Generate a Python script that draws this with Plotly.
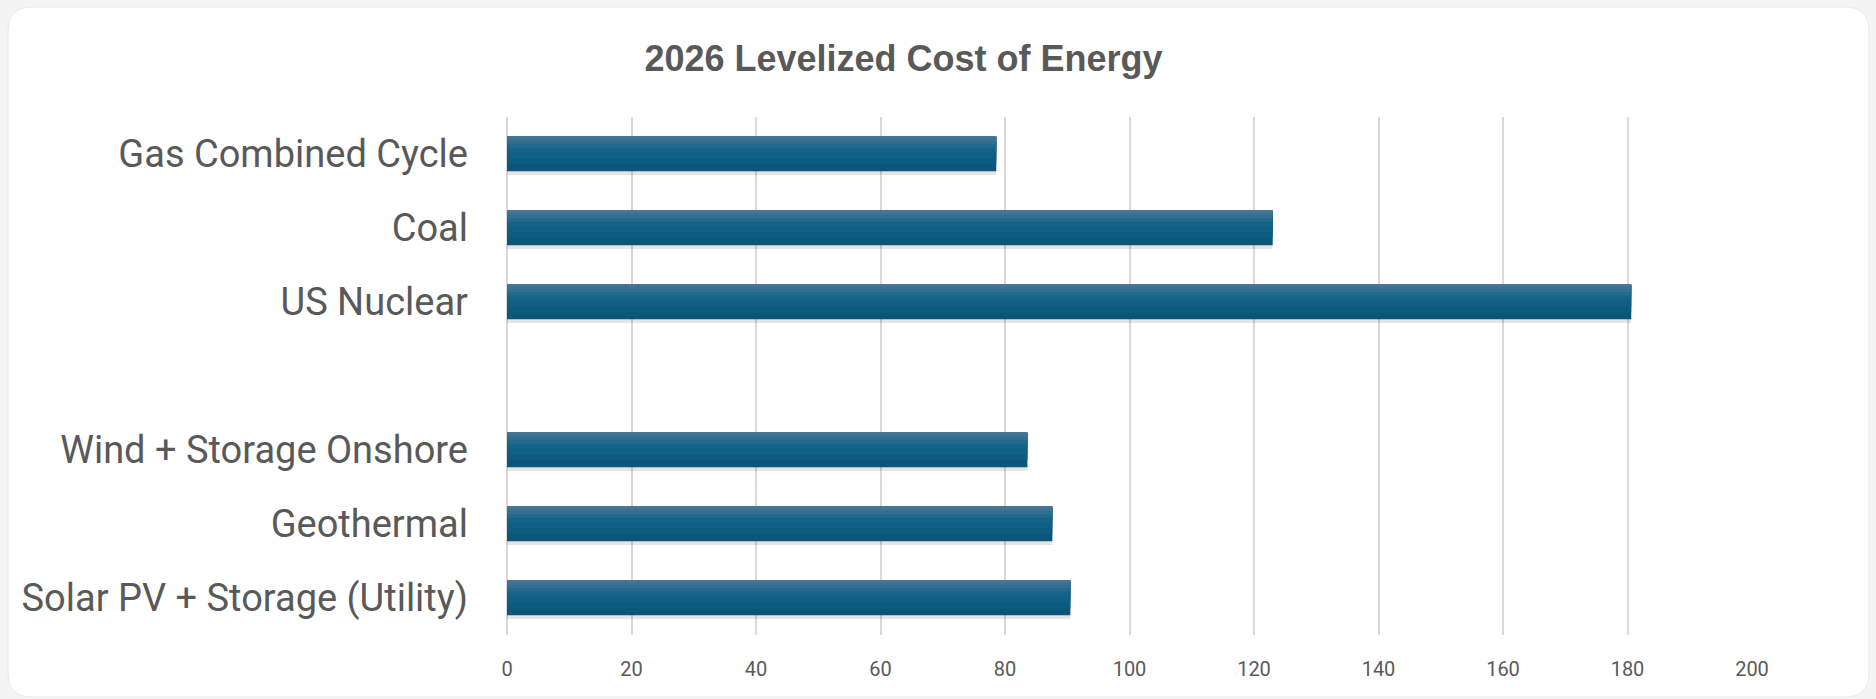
import plotly.graph_objects as go

# ---- data ----
categories = ["Gas Combined Cycle", "Coal", "US Nuclear", " ",
              "Wind + Storage Onshore", "Geothermal", "Solar PV + Storage (Utility)"]
lcoe_values = [78.6, 123.0, 180.6, None, 83.6, 87.6, 90.5]
x_tick_values = [0, 20, 40, 60, 80, 100, 120, 140, 160, 180, 200]
x_tick_labels = ["0", "20", "40", "60", "80", "100", "120", "140", "160", "180", "200"]
chart_title = "2026 Levelized Cost of Energy"

# ---- layout geometry (pixels) ----
W, H = 1876, 699
L, R, T, B = 507, W - 1752, 117, H - 635
pw, ph = W - L - R, H - T - B

TEXT = "#595959"
GRID = "#d9d9d9"
BAR_W = 0.466

fig = go.Figure()

# soft shadow under bars
fig.add_trace(go.Bar(
    y=categories, x=lcoe_values, orientation="h",
    width=BAR_W, offset=-BAR_W / 2 + 0.05,
    marker=dict(color="rgba(0,0,0,0.10)", line=dict(width=0)),
    hoverinfo="skip", showlegend=False,
))

# vertical gradient built from overlaid bars (top lighter -> bottom darker)
grad = [
    (1.00, "#0b5679"),
    (0.80, "#0d5b80"),
    (0.62, "#105f85"),
    (0.45, "#166389"),
    (0.32, "#23698d"),
    (0.22, "#316e90"),
    (0.13, "#3d7292"),
    (0.06, "#477694"),
]
for frac, col in grad:
    fig.add_trace(go.Bar(
        y=categories, x=lcoe_values, orientation="h",
        width=BAR_W * frac, offset=-BAR_W / 2,
        marker=dict(color=col, line=dict(width=0)),
        hoverinfo="skip", showlegend=False,
    ))

# white rounded card
def px_to_paper_x(px):
    return (px - L) / pw

def px_to_paper_y(py):
    return 1 - (py - T) / ph

cx0, cx1, cy0, cy1, rad = 8, 1869, 7, 697, 24
X0, X1 = px_to_paper_x(cx0), px_to_paper_x(cx1)
Y0, Y1 = px_to_paper_y(cy0), px_to_paper_y(cy1)
rx, ry = rad / pw, rad / ph
path = (f"M {X0+rx},{Y0} L {X1-rx},{Y0} Q {X1},{Y0} {X1},{Y0-ry} "
        f"L {X1},{Y1+ry} Q {X1},{Y1} {X1-rx},{Y1} "
        f"L {X0+rx},{Y1} Q {X0},{Y1} {X0},{Y1+ry} "
        f"L {X0},{Y0-ry} Q {X0},{Y0} {X0+rx},{Y0} Z")
fig.add_shape(type="path", path=path, xref="paper", yref="paper",
              fillcolor="white", line=dict(color="#e9e9e9", width=1), layer="below")

LABEL_FONT = "Roboto, Liberation Sans, sans-serif"

fig.update_layout(
    width=W, height=H,
    margin=dict(l=L, r=R, t=T, b=B, pad=0, autoexpand=False),
    paper_bgcolor="#f4f4f4",
    plot_bgcolor="rgba(0,0,0,0)",
    barmode="overlay",
    showlegend=False,
    title=dict(
        text=chart_title, xref="container", yref="container",
        x=903.5 / W, xanchor="center", y=1 - 58 / H, yanchor="middle",
        font=dict(family="Liberation Sans, Arial, sans-serif",
                  size=36, color=TEXT, weight="bold"),
    ),
    xaxis=dict(
        range=[0, 200], tickvals=x_tick_values, ticktext=x_tick_labels,
        showgrid=True, gridcolor=GRID, gridwidth=1.6,
        zeroline=True, zerolinecolor=GRID, zerolinewidth=1.6,
        showline=False, ticks="", ticklabelstandoff=20, automargin=False,
        tickfont=dict(family=LABEL_FONT, size=20, color=TEXT),
        fixedrange=True,
    ),
    yaxis=dict(
        type="category", categoryorder="array", categoryarray=categories,
        autorange="reversed", showgrid=False, zeroline=False,
        showline=False, ticks="", ticklabelstandoff=38, automargin=False,
        tickfont=dict(family=LABEL_FONT, size=38, color=TEXT),
        fixedrange=True,
    ),
)

fig.write_html("out.html", config={"displayModeBar": False},
               post_script="document.body.style.margin='0';")
